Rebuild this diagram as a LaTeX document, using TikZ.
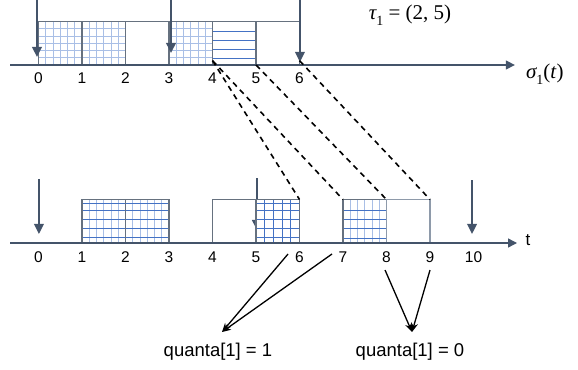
\documentclass[tikz,border=0pt]{standalone}
\usepackage{fontspec}
\setmainfont{Liberation Sans}
\newfontfamily\symfont{Liberation Serif}
\usetikzlibrary{arrows.meta}
\definecolor{slate}{HTML}{44546A}
\definecolor{boxline}{HTML}{66717F}
\definecolor{paleline}{HTML}{8E9AAA}
\definecolor{lightgrid}{HTML}{A9BFE6}
\definecolor{darkgrid}{HTML}{4472C4}
\newcommand{\lowsub}[1]{\raisebox{-0.28em}{\fontsize{14}{16}\selectfont\upshape #1}}
\begin{document}
\begin{tikzpicture}[x=43.5pt,y=43.5pt,
  axis/.style={draw=slate,line width=1.4pt,-{Triangle[length=9pt,width=9pt]}},
  release/.style={draw=slate,line width=2pt,-{Triangle[length=10pt,width=9.5pt]}},
  slot/.style={draw=boxline,line width=1.1pt},
  fine/.style={draw=lightgrid,line width=0.6pt},
  bold/.style={draw=darkgrid,line width=0.9pt},
  ticklab/.style={font=\fontsize{15.5}{18}\selectfont,inner sep=0pt},
  mapline/.style={draw=black,line width=1.6pt,dash pattern=on 5.5pt off 4.5pt},
  pointer/.style={draw=black,line width=1.3pt,-{Stealth[length=9pt,width=7pt]}},
  quanta/.style={font=\fontsize{18.5}{21}\selectfont,inner sep=0pt},
  symlab/.style={font=\symfont\fontsize{21}{24}\selectfont,inner sep=0pt}]
\useasboundingbox (-0.885,-6.989) rectangle (12.402,1.494);

% ---------- top schedule sigma_1 ----------
\fill[white] (0,0) rectangle (2,1);
\draw[fine,step=0.1666667] (0,0) grid (2,1);
\draw[slot] (0,0) rectangle (1,1) (1,0) rectangle (2,1);
\draw[slot] (2,0) rectangle (3,1);
\draw[fine,step=0.1666667] (3,0) grid (4,1);
\draw[slot] (3,0) rectangle (4,1);
\foreach \h in {0.15,0.36,0.56,0.77} \draw[bold] (4,\h) -- (5,\h);
\draw[slot] (4,0) rectangle (5,1);
\draw[slot] (5,0) rectangle (6,1);

\coordinate (ta) at (-0.655,0);
\coordinate (tb) at (10.95,0);
\draw[axis] (ta) -- (tb);
\foreach \i in {0,...,6} \node[ticklab] (t\i) at (\i,-0.30) {\i};
\node[symlab,font=\symfont\fontsize{21}{24}\selectfont] (sig) at (11.64,-0.21) {\itshape σ\lowsub{1}\upshape(\itshape t\/\upshape)};
\node[symlab] (tau) at (8.54,1.15) {\itshape τ\lowsub{1}\upshape\ = (2, 5)};

\coordinate (r0s) at (-0.035,1.494); \coordinate (r0e) at (-0.035,0.184);
\coordinate (r3s) at (3.046,1.494);  \coordinate (r3e) at (3.046,0.276);
\coordinate (r6s) at (6.01,1.494);   \coordinate (r6e) at (6.01,0.069);
\draw[release] (r0s) -- (r0e);
\draw[release] (r3s) -- (r3e);
\draw[release] (r6s) -- (r6e);

\coordinate (s4) at (4,0.1);
\coordinate (s5) at (5,0);
\coordinate (s6) at (6,0.1);

% ---------- bottom schedule ----------
\begin{scope}[shift={(0,-4.092)}]
  \fill[white] (1,0) rectangle (3,1);
  \draw[fine,xstep=0.1666667,ystep=10] (1,0) grid (3,1);
  \foreach \h in {0.12,0.33,0.54,0.74,0.92} \draw[bold] (1,\h) -- (3,\h);
  \draw[slot] (1,0) rectangle (2,1) (2,0) rectangle (3,1);
  \draw[slot] (4,0) rectangle (5,1);
  \coordinate (r5s) at (5.02,1.494); \coordinate (r5e) at (5.02,0.299);
  \draw[release] (r5s) -- (r5e);
  \fill[white] (5,0) rectangle (6,1);
  \foreach \v in {5.2,5.4,5.6,5.8} \draw[bold] (\v,0) -- (\v,1);
  \foreach \h in {0.12,0.33,0.54,0.74,0.92} \draw[bold] (5,\h) -- (6,\h);
  \draw[slot] (5,0) rectangle (6,1);
  \fill[white] (7,0) rectangle (8,1);
  \draw[fine,xstep=0.1666667,ystep=10] (7,0) grid (8,1);
  \foreach \h in {0.11,0.34,0.55,0.75} \draw[bold] (7,\h) -- (8,\h);
  \draw[slot] (7,0) rectangle (8,1);
  \draw[draw=paleline,line width=1.1pt] (8,0) rectangle (9,1);

  \coordinate (ba) at (-0.655,0);
  \coordinate (bb) at (11.0,0);
  \draw[axis] (ba) -- (bb);
  \foreach \i in {0,...,10} \node[ticklab] (b\i) at (\i,-0.322) {\i};
  \node[font=\fontsize{17}{20}\selectfont,inner sep=0pt] (tlab) at (11.25,0.06) {t};

  \coordinate (q0s) at (0.01,1.472);  \coordinate (q0e) at (0.01,0.207);
  \coordinate (q10s) at (9.966,1.448); \coordinate (q10e) at (9.966,0.207);
  \draw[release] (q0s) -- (q0e);
  \draw[release] (q10s) -- (q10e);

  \coordinate (e6) at (6,1);
  \coordinate (e7) at (7,1);
  \coordinate (e8) at (8,1);
  \coordinate (e9) at (9,1);
\end{scope}

\draw[mapline] (s4) -- (e6);
\draw[mapline] (s4) -- (e7);
\draw[mapline] (s5) -- (e8);
\draw[mapline] (s6) -- (e9);

% ---------- quanta pointers ----------
\node[quanta] (qa) at (4.126,-6.598) {quanta[1] = 1};
\node[quanta] (qb) at (8.54,-6.598) {quanta[1] = 0};
\coordinate (p6) at (5.736,-4.345);
\coordinate (p7) at (6.747,-4.345);
\coordinate (p8) at (7.966,-4.713);
\coordinate (p9) at (9.0,-4.713);
\coordinate (ka) at (4.218,-6.138);
\coordinate (kb) at (8.586,-6.138);
\draw[pointer] (p6) -- (ka);
\draw[pointer] (p7) -- (ka);
\draw[pointer] (p8) -- (kb);
\draw[pointer] (p9) -- (kb);
\end{tikzpicture}
\end{document}
